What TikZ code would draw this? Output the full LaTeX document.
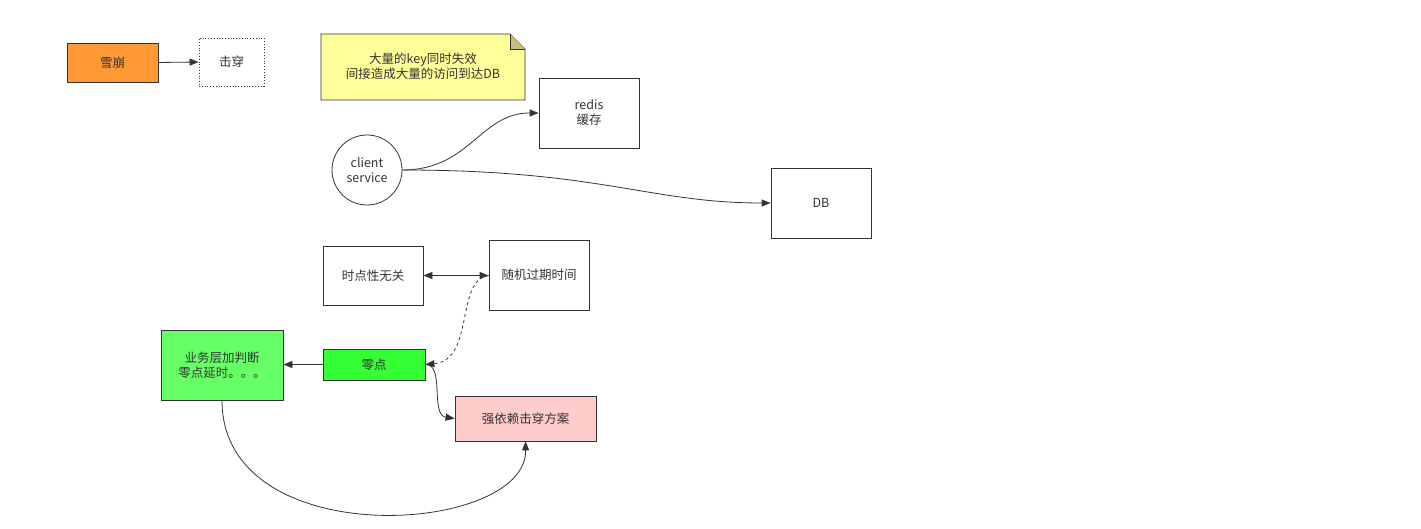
\documentclass[tikz,border=0pt]{standalone}
\usepackage{fontspec}
\setmainfont{Noto Sans CJK SC}
\usetikzlibrary{arrows.meta}
\definecolor{ln}{HTML}{333333}
\definecolor{txt}{HTML}{333333}
\definecolor{orangec}{HTML}{FF9933}
\definecolor{notec}{HTML}{FFFF99}
\definecolor{greena}{HTML}{66FF66}
\definecolor{greenb}{HTML}{33FF33}
\definecolor{pinkc}{HTML}{FFCCCC}
\tikzset{
  box/.style={draw=ln, line width=0.8pt, text=txt, font=\fontsize{12.5}{15}\selectfont, align=center, inner sep=0pt},
  conn/.style={draw=ln, line width=0.8pt, -{Triangle[length=9pt,width=7pt]}},
}
\begin{document}
\begin{tikzpicture}[x=1pt,y=-1pt]
\useasboundingbox (0,0) rectangle (1421,529);
\node[box, fill=orangec, minimum width=91pt, minimum height=39pt] (xb) at (112.5,62.5) {雪崩};
\node[box, dotted, minimum width=65pt, minimum height=48pt] (jc) at (231.5,62) {击穿};
% note
\fill[notec] (321,34) -- (510,34) -- (525,49) -- (525,100) -- (321,100) -- cycle;
\draw[ln, line width=0.8pt] (321,34) -- (510,34) -- (525,49) -- (525,100) -- (321,100) -- cycle;
\fill[ln!30!notec] (510,34) -- (510,49) -- (525,49) -- cycle;
\draw[ln, line width=0.8pt] (510,34) -- (510,49) -- (525,49);
\node[box, draw=none] (note) at (423,66) {大量的key同时失效\\间接造成大量的访问到达DB};
\node[box, minimum width=100pt, minimum height=70pt] (redis) at (589,113) {redis\\缓存};
\node[box, circle, minimum size=70pt] (cs) at (367,170) {client\\service};
\node[box, minimum width=100pt, minimum height=70pt] (db) at (821,203) {DB};
\node[box, minimum width=100pt, minimum height=59pt] (sd) at (373,275.5) {时点性无关};
\node[box, minimum width=100pt, minimum height=70pt] (sj) at (539,275) {随机过期时间};
\node[box, fill=greena, minimum width=122pt, minimum height=70pt] (yw) at (222,365) {业务层加判断\\零点延时。。。};
\node[box, fill=greenb, minimum width=102pt, minimum height=31pt] (ld) at (374,364.5) {零点};
\node[box, fill=pinkc, minimum width=141pt, minimum height=45pt] (qy) at (525.5,418.5) {强依赖击穿方案};
% connectors
\draw[conn] (xb.east) -- (jc.west);
\draw[conn] (cs.east) .. controls (470,170) and (480,113) .. (redis.west);
\draw[conn] (cs.east) .. controls (600,170) and (650,203) .. (db.west);
\draw[conn, {Triangle[length=9pt,width=7pt]}-{Triangle[length=9pt,width=7pt]}] (sd.east) -- (sj.west |- sd.east);
\draw[conn, dashed] (sj.west |- sd.east) .. controls (455,280) and (475,360) .. (ld.east);
\draw[conn] (ld.west) -- (yw.east |- ld.west);
\draw[conn] (ld.east) .. controls (445,364) and (430,415) .. (qy.west);
\draw[conn] (yw.south) .. controls (222,555) and (527,535) .. (qy.south);
\end{tikzpicture}
\end{document}
